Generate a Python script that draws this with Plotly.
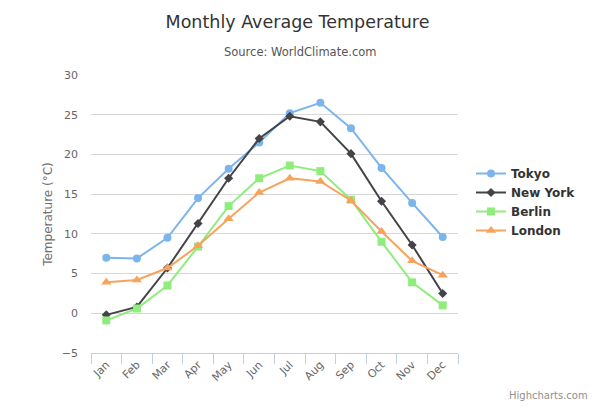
import plotly.graph_objects as go

months = ["Jan", "Feb", "Mar", "Apr", "May", "Jun", "Jul", "Aug", "Sep", "Oct", "Nov", "Dec"]
tokyo = [7.0, 6.9, 9.5, 14.5, 18.2, 21.5, 25.2, 26.5, 23.3, 18.3, 13.9, 9.6]
new_york = [-0.2, 0.8, 5.7, 11.3, 17.0, 22.0, 24.8, 24.1, 20.1, 14.1, 8.6, 2.5]
berlin = [-0.9, 0.6, 3.5, 8.4, 13.5, 17.0, 18.6, 17.9, 14.3, 9.0, 3.9, 1.0]
london = [3.9, 4.2, 5.7, 8.5, 11.9, 15.2, 17.0, 16.6, 14.2, 10.3, 6.6, 4.8]

series = [
    ("Tokyo", tokyo, "#7cb5ec", "circle", 8),
    ("New York", new_york, "#434348", "diamond", 7),
    ("Berlin", berlin, "#90ed7d", "square", 8),
    ("London", london, "#f7a35c", "triangle-up", 9),
]

font = "DejaVu Sans, Verdana, sans-serif"

fig = go.Figure()
for name, vals, color, sym, sz in series:
    fig.add_trace(go.Scatter(
        x=months, y=vals, name=name, mode="lines+markers",
        line=dict(color=color, width=2),
        marker=dict(color=color, symbol=sym, size=sz),
    ))

W, H = 595, 412
L, R, T, B = 91, 137, 75, 59
PW, PH = W - L - R, H - T - B

def px_x(x):
    return (x - L) / PW

def px_y(y):
    return 1 - (y - T) / PH

fig.update_layout(
    width=W, height=H,
    margin=dict(l=L, r=R, t=T, b=B, autoexpand=False),
    paper_bgcolor="white", plot_bgcolor="white",
    font=dict(family=font, color="#666666", size=11),
    title=dict(text="Monthly Average Temperature", x=0.5, xref="container", xanchor="center",
               y=1 - 22 / H, yref="container", yanchor="middle",
               font=dict(size=17.5, color="#333333", family=font)),
    showlegend=True,
    legend=dict(x=px_x(471), xanchor="left", y=px_y(202), yanchor="middle",
                font=dict(size=12, color="#333333", family=font, weight="bold"),
                itemwidth=30, tracegroupgap=0, bgcolor="rgba(0,0,0,0)"),
)
fig.add_annotation(text="Source: WorldClimate.com", xref="paper", yref="paper",
                   x=px_x(300), y=px_y(52), xanchor="center", yanchor="middle",
                   showarrow=False, font=dict(size=11.5, color="#555555", family=font))
fig.add_annotation(text="Highcharts.com", xref="paper", yref="paper",
                   x=px_x(590), y=px_y(395), xanchor="right", yanchor="middle",
                   showarrow=False, font=dict(size=10, color="#909090", family=font))

fig.update_xaxes(
    type="category", range=[-0.5, 11.5],
    showline=True, linecolor="#C0D0E0", linewidth=1,
    ticks="outside", tickson="boundaries", ticklen=10, tickcolor="#C0D0E0",
    tickangle=-45, showgrid=False, zeroline=False,
    tickfont=dict(size=11, color="#666666", family=font),
)
fig.update_yaxes(
    range=[-5, 30], dtick=5, tick0=0,
    showgrid=True, gridcolor="#D8D8D8", gridwidth=1, zeroline=False,
    showline=False, ticks="", ticklabelstandoff=12,
    title=dict(text="Temperature (°C)", font=dict(size=12, color="#707070", family=font), standoff=6),
    tickfont=dict(size=11, color="#666666", family=font),
)

fig.write_html("out.html", config={"displayModeBar": False},
               post_script="document.body.style.margin='0';")
